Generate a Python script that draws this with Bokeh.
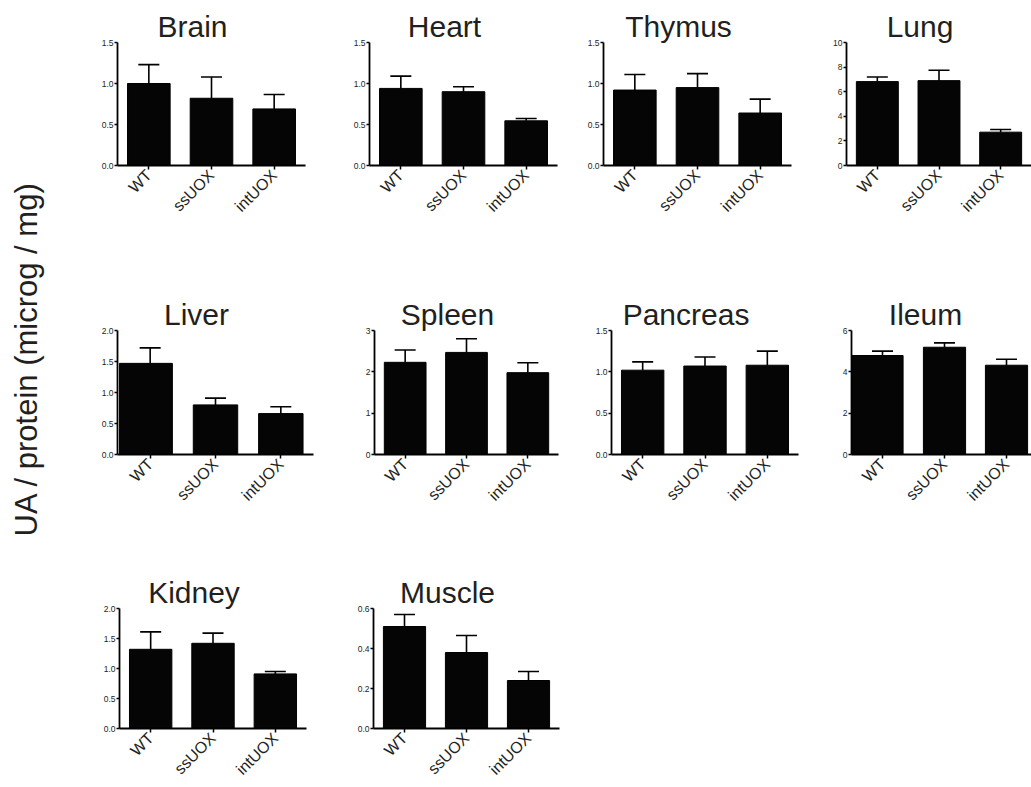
from math import pi
from bokeh.plotting import figure
from bokeh.layouts import row, column
from bokeh.models import Range1d, FixedTicker, PrintfTickFormatter
from bokeh.core.properties import value
from bokeh.embed import file_html
from bokeh.resources import INLINE

# ---------------- data ----------------
groups = ["WT", "ssUOX", "intUOX"]

brain_mean = [1.00, 0.82, 0.69]
brain_sem = [0.23, 0.26, 0.175]
heart_mean = [0.94, 0.90, 0.545]
heart_sem = [0.15, 0.06, 0.028]
thymus_mean = [0.92, 0.95, 0.64]
thymus_sem = [0.19, 0.17, 0.17]
lung_mean = [6.82, 6.90, 2.71]
lung_sem = [0.38, 0.85, 0.22]
liver_mean = [1.47, 0.80, 0.66]
liver_sem = [0.25, 0.11, 0.11]
spleen_mean = [2.23, 2.47, 1.98]
spleen_sem = [0.30, 0.33, 0.24]
pancreas_mean = [1.02, 1.07, 1.08]
pancreas_sem = [0.10, 0.11, 0.17]
ileum_mean = [4.79, 5.19, 4.32]
ileum_sem = [0.21, 0.21, 0.29]
kidney_mean = [1.32, 1.42, 0.91]
kidney_sem = [0.29, 0.17, 0.04]
muscle_mean = [0.51, 0.38, 0.24]
muscle_sem = [0.06, 0.085, 0.045]

organs = ["Brain", "Heart", "Thymus", "Lung", "Liver", "Spleen",
          "Pancreas", "Ileum", "Kidney", "Muscle"]
means = {"Brain": brain_mean, "Heart": heart_mean, "Thymus": thymus_mean,
         "Lung": lung_mean, "Liver": liver_mean, "Spleen": spleen_mean,
         "Pancreas": pancreas_mean, "Ileum": ileum_mean,
         "Kidney": kidney_mean, "Muscle": muscle_mean}
sems = {"Brain": brain_sem, "Heart": heart_sem, "Thymus": thymus_sem,
        "Lung": lung_sem, "Liver": liver_sem, "Spleen": spleen_sem,
        "Pancreas": pancreas_sem, "Ileum": ileum_sem,
        "Kidney": kidney_sem, "Muscle": muscle_sem}
y_max = {"Brain": 1.5, "Heart": 1.5, "Thymus": 1.5, "Lung": 10,
         "Liver": 2.0, "Spleen": 3, "Pancreas": 1.5, "Ileum": 6,
         "Kidney": 2.0, "Muscle": 0.6}
y_step = {"Brain": 0.5, "Heart": 0.5, "Thymus": 0.5, "Lung": 2,
          "Liver": 0.5, "Spleen": 1, "Pancreas": 0.5, "Ileum": 2,
          "Kidney": 0.5, "Muscle": 0.2}
y_title = "UA / protein (microg / mg)"

# ---------------- layout / style (page pixel coords) ----------------
PAGE_R = 1031
LABEL_W = 60
TOTAL_H = 786
INK = "#231f20"
FONT = "Liberation Sans"

# (organ, frame_left, frame_right) in page px
rows_spec = [
    [("Brain", 117, 305), ("Heart", 369, 557), ("Thymus", 603, 791), ("Lung", 846, 1031)],
    [("Liver", 117, 313), ("Spleen", 374, 558), ("Pancreas", 611, 798), ("Ileum", 851, 1037)],
    [("Kidney", 119, 306), ("Muscle", 373, 559)],
]
# (border_top, frame_h, border_bottom)
rows_vert = [(42, 123, 70), (95, 124, 70), (84, 124, 54)]

bar_width = 0.68
wide_bar = {"Liver": (0, -0.065, 0.81), "Ileum": (0, -0.083, 0.83)}

arial_w = {"B": 667, "H": 722, "T": 611, "L": 556, "S": 667, "P": 667, "I": 278,
           "K": 667, "M": 833, "a": 556, "c": 500, "d": 556, "e": 556, "g": 556,
           "h": 556, "i": 222, "l": 222, "m": 833, "n": 556, "p": 556, "r": 333,
           "s": 500, "t": 278, "u": 556, "v": 500, "y": 500}
TITLE_PX = 30


def make_panel(name, fl, fr, fig_l, fig_r, vert):
    bt, fh, bb = vert
    pitch = (fr - fl) / 3.0
    vis_r = min(fr, PAGE_R)
    x_end = -0.5 + (vis_r - fl) / pitch
    ymax = y_max[name]
    p = figure(width=int(round(fig_r - fig_l)), height=bt + fh + bb,
               x_range=Range1d(-0.5, x_end), y_range=Range1d(0, ymax),
               min_border_left=int(round(fl - fig_l)),
               min_border_right=int(round(fig_r - vis_r)),
               min_border_top=bt, min_border_bottom=bb,
               toolbar_location=None, tools="", output_backend="svg")
    p.grid.visible = False
    p.outline_line_color = None
    p.background_fill_color = "white"
    p.border_fill_color = "white"

    xs = [0.0, 1.0, 2.0]
    widths = [bar_width] * 3
    xs_b = list(xs)
    if name in wide_bar:
        i, sh, w = wide_bar[name]
        xs_b[i] = xs[i] + sh
        widths[i] = w
    m = means[name]
    s = sems[name]
    tops = [a + b for a, b in zip(m, s)]
    cap = 10.5 / pitch
    p.vbar(x=xs_b, width=widths, top=m, bottom=0, fill_color="#050505",
           line_color="black", line_width=1)
    p.segment(x0=xs, y0=m, x1=xs, y1=tops, line_color="black", line_width=1.6)
    p.segment(x0=[x - cap for x in xs], y0=tops, x1=[x + cap for x in xs], y1=tops,
              line_color="black", line_width=1.6)

    # title
    tw = sum(arial_w.get(c, 556) for c in name) * TITLE_PX / 1000.0
    center = fl + 1.5 * pitch - 19
    p.title.text = name
    p.title.align = "left"
    p.title.offset = center - tw / 2 - fl
    p.title.text_font = FONT
    p.title.text_font_size = f"{TITLE_PX}px"
    p.title.text_font_style = "normal"
    p.title.text_color = INK
    p.title.standoff = 0

    # axes
    n = int(round(ymax / y_step[name]))
    ticks = [round(k * y_step[name], 3) for k in range(n + 1)]
    ya = p.yaxis[0]
    ya.ticker = FixedTicker(ticks=ticks)
    ya.formatter = PrintfTickFormatter(format="%.1f" if y_step[name] < 1 else "%d")
    ya.major_label_text_font_size = "8.5px"
    ya.major_label_standoff = 1
    ya.major_tick_out = 3
    ya.major_tick_in = 0
    xa = p.xaxis[0]
    xa.ticker = FixedTicker(ticks=xs)
    xa.major_label_overrides = {0: groups[0], 1: groups[1], 2: groups[2]}
    xa.major_label_orientation = pi / 4
    xa.major_label_text_font_size = "16px"
    xa.major_label_standoff = 3
    xa.major_tick_out = 4
    xa.major_tick_in = 0
    for ax in (xa, ya):
        ax.axis_line_width = 1.8
        ax.axis_line_color = "black"
        ax.major_tick_line_width = 1.5
        ax.major_tick_line_color = "black"
        ax.minor_tick_line_color = None
        ax.major_label_text_font = FONT
        ax.major_label_text_color = INK
    return p


row_layouts = []
for spec, vert in zip(rows_spec, rows_vert):
    figs = []
    starts = [LABEL_W] + [fl - 36 for (_, fl, _) in spec[1:]]
    ends = starts[1:] + [min(spec[-1][2], PAGE_R) + (0 if spec[-1][2] >= PAGE_R else 14)]
    for (name, fl, fr), s0, e0 in zip(spec, starts, ends):
        figs.append(make_panel(name, fl, fr, s0, e0, vert))
    row_layouts.append(row(*figs, spacing=0))

# y-axis title panel
lab = figure(width=LABEL_W, height=TOTAL_H, x_range=Range1d(0, LABEL_W),
             y_range=Range1d(0, TOTAL_H), min_border=0, toolbar_location=None,
             tools="", output_backend="svg", x_axis_location=None, y_axis_location=None)
lab.grid.visible = False
lab.outline_line_color = None
lab.text(x=[26], y=[TOTAL_H - 358.5], text=[y_title], angle=pi / 2,
         text_align="center", text_baseline="alphabetic", text_font=value(FONT),
         text_font_size="31px", text_color=INK)

layout = row(lab, column(*row_layouts, spacing=0), spacing=0)

open("out.html", "w").write(file_html(layout, INLINE))
